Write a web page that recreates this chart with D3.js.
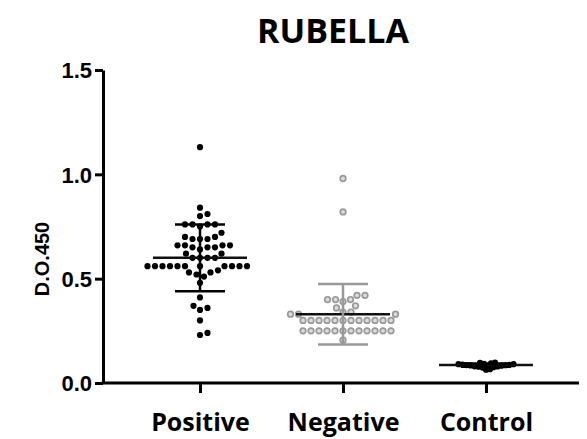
<!DOCTYPE html>
<html>
<head>
<meta charset="utf-8">
<script src="https://cdn.jsdelivr.net/npm/d3@7"></script>
<style>
  body { margin: 0; background: #fff; }
  svg { display: block; }
</style>
</head>
<body>
<svg id="chart" width="587" height="439"></svg>
<script>
// groups and their readings (D.O.450)
var categories = ["Positive", "Negative", "Control"];

var positive = [1.13,
  0.84, 0.81, 0.80,
  0.76, 0.76, 0.75, 0.76, 0.76,
  0.72,
  0.70, 0.69, 0.69, 0.69, 0.70,
  0.66, 0.66, 0.65, 0.64, 0.66, 0.65, 0.65, 0.66,
  0.62, 0.62,
  0.60, 0.60, 0.60, 0.60,
  0.56, 0.56, 0.56, 0.56, 0.56, 0.56, 0.56, 0.56, 0.56, 0.56, 0.56,
  0.53, 0.53, 0.54,
  0.52, 0.51,
  0.48, 0.41,
  0.37, 0.35, 0.36,
  0.30, 0.23, 0.24];

var negative = [0.98, 0.82,
  0.42, 0.42,
  0.40, 0.39, 0.40, 0.40,
  0.37, 0.36,
  0.34, 0.34,
  0.33, 0.33, 0.33,
  0.30, 0.30, 0.30, 0.30, 0.30, 0.30, 0.30, 0.30, 0.30, 0.30, 0.30, 0.30,
  0.25, 0.25, 0.25, 0.25, 0.25, 0.25, 0.25, 0.25, 0.25, 0.25, 0.25, 0.25,
  0.205];

var control = [0.098, 0.096, 0.094, 0.092, 0.09, 0.09, 0.088, 0.087, 0.086, 0.085,
  0.084, 0.083, 0.082, 0.08, 0.079, 0.078, 0.076, 0.074, 0.066, 0.064];

// mean and SD as drawn
var means = [0.60, 0.33, 0.086];
var sds = [0.16, 0.145, 0.008];

var yTicks = [0.0, 0.5, 1.0, 1.5];

var margin = {top: 70, right: 7, bottom: 56, left: 103},
    width = 587 - margin.left - margin.right,
    height = 439 - margin.top - margin.bottom;

var x = d3.scalePoint()
    .domain(categories)
    .range([97, 383]);

var y = d3.scaleLinear()
    .domain([0, 1.5])
    .range([height, 0]);

var svg = d3.select("#chart");

var chart = svg.append("g")
    .attr("transform", "translate(" + margin.left + "," + margin.top + ")");

// title
svg.append("text")
    .attr("x", 333)
    .attr("y", 43)
    .attr("text-anchor", "middle")
    .style("font-family", "'Open Sans'")
    .style("font-weight", "bold")
    .style("font-size", "34px")
    .text("RUBELLA");

// simple beeswarm so dots don't overlap
function swarm(values, cx, minDist) {
  var placed = [];
  values.slice().sort(function(a, b) { return a - b; }).forEach(function(v) {
    var py = y(v), best = 0;
    for (var k = 0; k < 300; k++) {
      var dx = (k % 2 ? 1 : -1) * Math.ceil(k / 2) * 0.5;
      var ok = placed.every(function(p) {
        var ddx = p.x - (cx + dx), ddy = p.y - py;
        return ddx * ddx + ddy * ddy >= minDist * minDist;
      });
      if (ok) { best = dx; break; }
    }
    placed.push({x: cx + best, y: py, v: v});
  });
  return placed;
}

var groups = [
  {name: "Positive", values: positive, fill: "#000", stroke: "none", r: 3.1, dist: 7.4},
  {name: "Negative", values: negative, fill: "#dcdcdc", stroke: "#999", r: 2.8, dist: 7.6},
  {name: "Control", values: control, fill: "#000", stroke: "none", r: 3.1, dist: 4}
];

groups.forEach(function(g, i) {
  var cx = x(g.name);
  var pts = swarm(g.values, cx, g.dist);
  var errColor = g.name === "Negative" ? "#999" : "#000";

  chart.selectAll(".dot-" + i)
      .data(pts)
    .enter().append("circle")
      .attr("cx", function(d) { return d.x; })
      .attr("cy", function(d) { return d.y; })
      .attr("r", g.r)
      .style("fill", g.fill)
      .style("stroke", g.stroke)
      .style("stroke-width", 1.7);

  // mean line
  chart.append("line")
      .attr("x1", cx - 47).attr("x2", cx + 47)
      .attr("y1", y(means[i])).attr("y2", y(means[i]))
      .style("stroke", "#111")
      .style("stroke-width", 2.5);

  // SD whiskers
  var lo = means[i] - sds[i], hi = means[i] + sds[i];
  chart.append("line")
      .attr("x1", cx).attr("x2", cx)
      .attr("y1", y(lo)).attr("y2", y(hi))
      .style("stroke", errColor)
      .style("stroke-width", 2.5);
  [lo, hi].forEach(function(v) {
    chart.append("line")
        .attr("x1", cx - 25).attr("x2", cx + 25)
        .attr("y1", y(v)).attr("y2", y(v))
        .style("stroke", errColor)
        .style("stroke-width", 2.5);
  });
});

// axes
var yAxis = chart.append("g")
    .call(d3.axisLeft(y)
      .tickValues(yTicks)
      .tickFormat(d3.format(".1f"))
      .tickSize(8)
      .tickSizeOuter(0)
      .tickPadding(3));

var xAxis = chart.append("g")
    .attr("transform", "translate(0," + height + ")")
    .call(d3.axisBottom(x)
      .tickSize(10)
      .tickSizeOuter(0));

xAxis.select(".domain").attr("d", "M-1.5,0H" + (width - 1));

[yAxis, xAxis].forEach(function(a) {
  a.select(".domain").style("stroke", "#000").style("stroke-width", 3);
  a.selectAll(".tick line").style("stroke", "#000").style("stroke-width", 3);
});

yAxis.selectAll("text")
    .style("font-family", "'Liberation Sans', Arial, sans-serif")
    .style("font-weight", "bold")
    .style("font-size", "22px")
    .attr("dy", "0.36em")
    .style("fill", "#000");

xAxis.selectAll("text")
    .attr("y", 30)
    .attr("dy", "0.71em")
    .style("font-family", "'Open Sans'")
    .style("font-weight", "bold")
    .style("font-size", "25px")
    .style("fill", "#000");

// y label
svg.append("text")
    .attr("transform", "translate(49,259) rotate(-90)")
    .attr("text-anchor", "middle")
    .style("font-family", "'Liberation Sans', Arial, sans-serif")
    .style("font-weight", "bold")
    .style("font-size", "20px")
    .text("D.O.450");
</script>
</body>
</html>
